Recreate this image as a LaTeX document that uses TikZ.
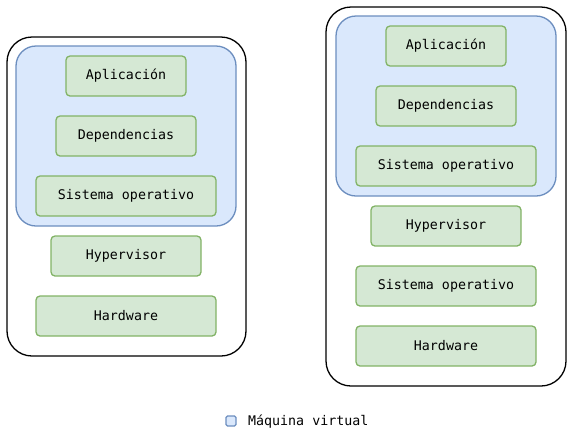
\documentclass[tikz,border=0pt]{standalone}
\usepackage{fontspec}
\newfontfamily\monofont{DejaVu Sans Mono}
\usetikzlibrary{positioning}

\definecolor{capafill}{HTML}{D5E8D4}
\definecolor{capadraw}{HTML}{82B366}
\definecolor{vmfill}{HTML}{DAE8FC}
\definecolor{vmdraw}{HTML}{6C8EBF}

\tikzset{
    capa/.style={draw=capadraw, fill=capafill, line width=1.3pt, rounded corners=4pt,
        minimum height=40pt, inner sep=0pt},
    vm/.style={draw=vmdraw, fill=vmfill, line width=1.3pt, rounded corners=20pt,
        minimum width=220pt, minimum height=180pt, inner sep=0pt},
    host/.style={draw=black, line width=1.3pt, rounded corners=25pt, inner sep=0pt}
}

\begin{document}
\begin{tikzpicture}[x=1pt, y=-1pt, font=\monofont\fontsize{13.3}{16}\selectfont]
            \useasboundingbox (0,0) rectangle (573,437);

            % host boxes
            \node[host, minimum width=239pt, minimum height=319pt] (hostA) at (126.5,196.5) {};
            \node[host, minimum width=240pt, minimum height=379pt] (hostB) at (446,196.5) {};

            % virtual machines
            \node[vm] (vmA) at (126,136) {};
            \node[vm] (vmB) at (446,106) {};

            \begin{scope}[every node/.style={capa}]
                \node[minimum width=120pt] (aplA) at (126,76) {Aplicación};
                \node[minimum width=140pt] (depA) at (126,136) {Dependencias};
                \node[minimum width=180pt] (soA) at (126,196) {Sistema operativo};
                \node[minimum width=150pt] (hypA) at (126,256) {Hypervisor};
                \node[minimum width=180pt] (hwA) at (126,316) {Hardware};

                \node[minimum width=120pt] (aplB) at (446,46) {Aplicación};
                \node[minimum width=140pt] (depB) at (446,106) {Dependencias};
                \node[minimum width=180pt] (soB) at (446,166) {Sistema operativo};
                \node[minimum width=150pt] (hypB) at (446,226) {Hypervisor};
                \node[minimum width=180pt] (hostsoB) at (446,286) {Sistema operativo};
                \node[minimum width=180pt] (hwB) at (446,346) {Hardware};
            \end{scope}

            % legend
            \node[vm, rounded corners=1.5pt, minimum width=10pt, minimum height=10pt] (leyenda) at (231,421) {};
            \node[anchor=west, inner sep=0pt] (leyendatxt) at (248,422) {Máquina virtual};
        \end{tikzpicture}
\end{document}
